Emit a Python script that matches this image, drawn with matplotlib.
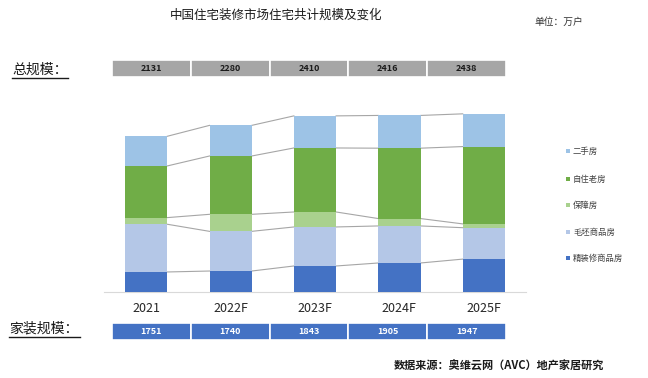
import numpy as np
import matplotlib
matplotlib.use("Agg")
import matplotlib.pyplot as plt
from matplotlib.patches import Rectangle
from matplotlib.lines import Line2D

plt.rcParams['font.family'] = ['Noto Sans CJK SC', 'DejaVu Sans']

years = ["2021", "2022F", "2023F", "2024F", "2025F"]
# stacked segments, bottom -> top (万户)
jingzhuang = [274, 287, 356, 397, 450]   # 精装修商品房
maopi = [653, 543, 534, 507, 430]        # 毛坯商品房
baozhang = [91, 233, 205, 101, 52]       # 保障房
zizhu = [707, 798, 876, 963, 1058]       # 自住老房
ershou = [406, 419, 439, 448, 448]       # 二手房
series_names = ["精装修商品房", "毛坯商品房", "保障房", "自住老房", "二手房"]
colors = ["#4472C4", "#B4C7E7", "#A9D18E", "#70AD47", "#9DC3E6"]

total_scale = [2131, 2280, 2410, 2416, 2438]
home_scale = [1751, 1740, 1843, 1905, 1947]

W, H = 648, 378
fig = plt.figure(figsize=(W / 100, H / 100), dpi=100)


def fx(px):
    return px / W


def fy(py):
    return 1 - py / H


ax = fig.add_axes([fx(104), fy(292), fx(422), 190 / H])
x = np.arange(len(years))
series = [jingzhuang, maopi, baozhang, zizhu, ershou]
bottom = np.zeros(len(years))
levels = []
for vals, col in zip(series, colors):
    vals = np.array(vals, dtype=float)
    ax.bar(x, vals, width=0.5, bottom=bottom, color=col, zorder=3)
    bottom = bottom + vals
    levels.append(bottom.copy())

# connector lines between neighbouring bars
for lev in levels:
    for i in range(len(years) - 1):
        ax.plot([x[i] + 0.25, x[i + 1] - 0.25], [lev[i], lev[i + 1]],
                color="#A6A6A6", lw=0.8, zorder=2)

ax.set_xlim(-0.5, 4.5)
ax.set_ylim(0, 2600)
ax.set_yticks([])
ax.set_xticks(x)
ax.set_xticklabels(years, fontsize=9, color="#262626")
ax.tick_params(axis="x", length=0, pad=7)
for s in ["top", "left", "right"]:
    ax.spines[s].set_visible(False)
ax.spines["bottom"].set_color("#D9D9D9")

# scale tables
def draw_table(top_px, bot_px, values, face, txt_color):
    tax = fig.add_axes([fx(112), fy(bot_px), fx(394), (bot_px - top_px) / H])
    tax.bar(np.arange(len(values)), 1, width=1, align="edge", color=face,
            edgecolor="white", linewidth=1.2)
    for i, v in enumerate(values):
        tax.text(i + 0.5, 0.5, str(v), ha="center", va="center",
                 fontsize=6.5, fontweight="bold", color=txt_color)
    tax.set_xlim(0, len(values))
    tax.set_ylim(0, 1)
    tax.axis("off")


draw_table(60, 77, total_scale, "#A6A6A6", "#1A1A1A")
draw_table(323, 340, home_scale, "#4472C4", "white")

# underlined row labels
fig.text(fx(12), fy(70), "总规模：", fontsize=10, va="center", ha="left", color="#1A1A1A")
fig.add_artist(Line2D([fx(12), fx(68)], [fy(78), fy(78)], color="#1A1A1A", lw=1))
fig.text(fx(9), fy(329), "家装规模：", fontsize=10, va="center", ha="left", color="#1A1A1A")
fig.add_artist(Line2D([fx(9), fx(80)], [fy(337), fy(337)], color="#1A1A1A", lw=1))

# title, unit, source
fig.text(fx(276), fy(15), "中国住宅装修市场住宅共计规模及变化", fontsize=9,
         ha="center", va="center", color="#1A1A1A")
fig.text(fx(534), fy(22), "单位：万户", fontsize=7, ha="left", va="center", color="#333333")
fig.text(fx(394), fy(366), "数据来源：奥维云网（AVC）地产家居研究", fontsize=8,
         ha="left", va="center", color="#1A1A1A", fontweight="bold")

# legend
leg_y = [258, 232, 205, 179, 151]
for name, col, ly in zip(series_names, colors, leg_y):
    fig.add_artist(Rectangle((fx(566), fy(ly + 2)), fx(4), 4 / H,
                             facecolor=col, edgecolor="none"))
    fig.text(fx(573), fy(ly), name, fontsize=6, ha="left", va="center", color="#404040")

fig.savefig("out.png", dpi=100)
